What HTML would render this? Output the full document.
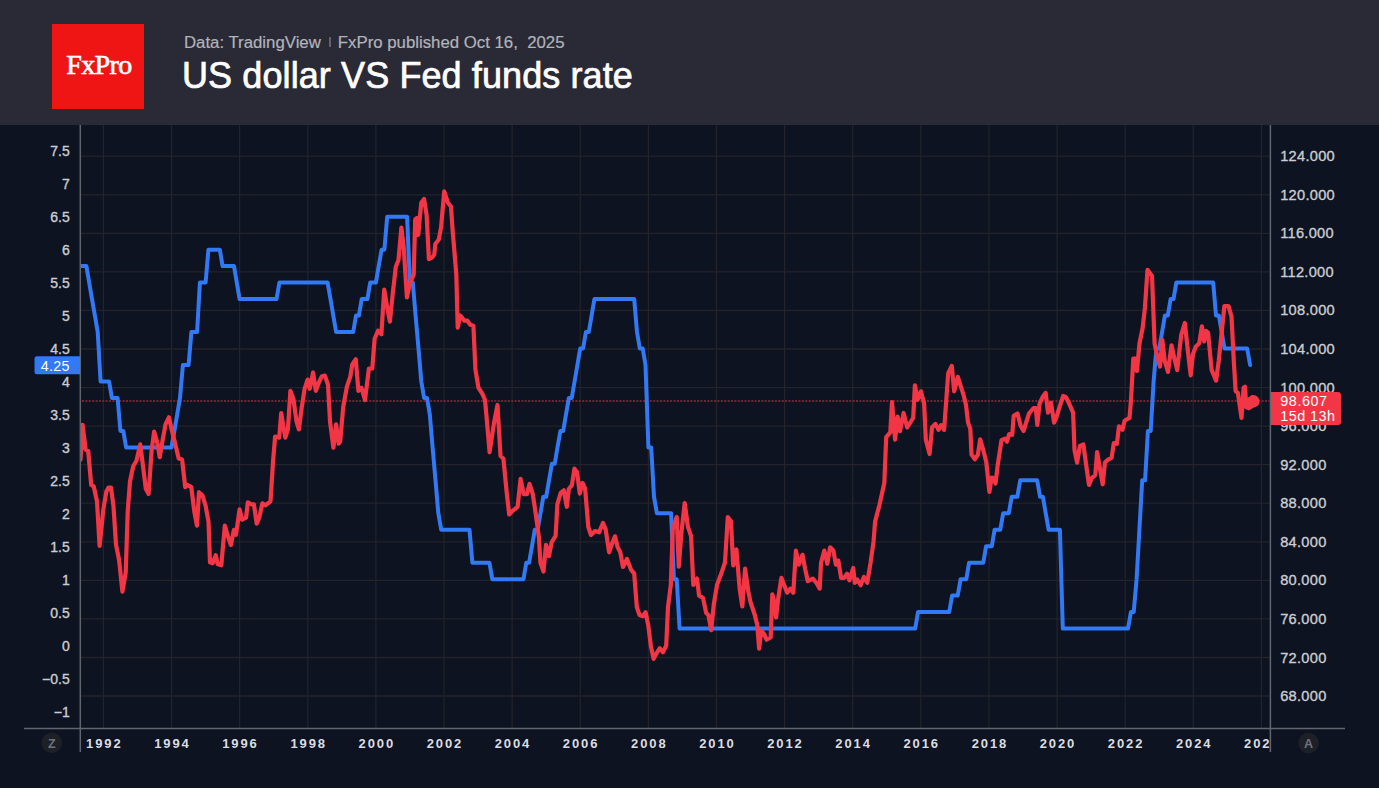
<!DOCTYPE html>
<html><head><meta charset="utf-8"><title>US dollar VS Fed funds rate</title>
<style>
html,body{margin:0;padding:0;background:#0d1320;width:1379px;height:788px;overflow:hidden}
#hd{position:absolute;left:0;top:0;width:1379px;height:125px;background:#292a36}
#logo{position:absolute;left:52px;top:24px;width:92px;height:85px;background:#f01515}
#logo span{position:absolute;left:2px;right:0;top:25px;text-align:center;color:#fff;font:28px "Liberation Serif",serif;letter-spacing:-0.6px;-webkit-text-stroke:0.7px #fff}
#sub{position:absolute;left:184px;top:33px;color:#b2b4ba;font:16.8px "Liberation Sans",sans-serif;white-space:nowrap;-webkit-text-stroke:0.2px #b2b4ba}
#sub i{display:inline-block;width:2px;height:10.5px;background:#5f626a;margin:0 7px 0 8px;vertical-align:1px}
#ttl{position:absolute;left:182px;top:55px;color:#fff;font:36px "Liberation Sans",sans-serif;white-space:nowrap;letter-spacing:0.1px;-webkit-text-stroke:0.7px #fff}
svg{position:absolute;left:0;top:0}
.g{stroke:#232329;stroke-width:1.3}
.ll{font:14px "Liberation Sans",sans-serif;fill:#cbcdd2;stroke:#cbcdd2;stroke-width:0.35px;text-anchor:end}
.rl{font:14.6px "Liberation Sans",sans-serif;fill:#cbcdd2;stroke:#cbcdd2;stroke-width:0.35px;letter-spacing:0.3px}
.yl{font:bold 13px "Liberation Sans",sans-serif;fill:#dcdde1;text-anchor:middle;letter-spacing:1.9px}
</style></head><body>
<div id="hd">
<div id="logo"><span>FxPro</span></div>
<div id="sub">Data: TradingView<i></i>FxPro published Oct 16,&nbsp; 2025</div>
<div id="ttl">US dollar VS Fed funds rate</div>
</div>
<svg width="1379" height="788" viewBox="0 0 1379 788">
<defs><clipPath id="yc"><rect x="81" y="730" width="1189" height="30"/></clipPath><clipPath id="pc"><rect x="81" y="125" width="1189" height="603"/></clipPath></defs>
<rect x="0" y="125" width="1379" height="663" fill="#0d1320"/>
<line x1="80" y1="156.2" x2="1270" y2="156.2" class="g"/>
<line x1="80" y1="194.8" x2="1270" y2="194.8" class="g"/>
<line x1="80" y1="233.3" x2="1270" y2="233.3" class="g"/>
<line x1="80" y1="271.9" x2="1270" y2="271.9" class="g"/>
<line x1="80" y1="310.4" x2="1270" y2="310.4" class="g"/>
<line x1="80" y1="349.0" x2="1270" y2="349.0" class="g"/>
<line x1="80" y1="387.6" x2="1270" y2="387.6" class="g"/>
<line x1="80" y1="426.1" x2="1270" y2="426.1" class="g"/>
<line x1="80" y1="464.7" x2="1270" y2="464.7" class="g"/>
<line x1="80" y1="503.2" x2="1270" y2="503.2" class="g"/>
<line x1="80" y1="541.8" x2="1270" y2="541.8" class="g"/>
<line x1="80" y1="580.4" x2="1270" y2="580.4" class="g"/>
<line x1="80" y1="618.9" x2="1270" y2="618.9" class="g"/>
<line x1="80" y1="657.5" x2="1270" y2="657.5" class="g"/>
<line x1="80" y1="696.0" x2="1270" y2="696.0" class="g"/>
<line x1="103.4" y1="125" x2="103.4" y2="728" class="g"/>
<line x1="171.5" y1="125" x2="171.5" y2="728" class="g"/>
<line x1="239.6" y1="125" x2="239.6" y2="728" class="g"/>
<line x1="307.8" y1="125" x2="307.8" y2="728" class="g"/>
<line x1="375.9" y1="125" x2="375.9" y2="728" class="g"/>
<line x1="444.0" y1="125" x2="444.0" y2="728" class="g"/>
<line x1="512.1" y1="125" x2="512.1" y2="728" class="g"/>
<line x1="580.2" y1="125" x2="580.2" y2="728" class="g"/>
<line x1="648.4" y1="125" x2="648.4" y2="728" class="g"/>
<line x1="716.5" y1="125" x2="716.5" y2="728" class="g"/>
<line x1="784.6" y1="125" x2="784.6" y2="728" class="g"/>
<line x1="852.7" y1="125" x2="852.7" y2="728" class="g"/>
<line x1="920.8" y1="125" x2="920.8" y2="728" class="g"/>
<line x1="989.0" y1="125" x2="989.0" y2="728" class="g"/>
<line x1="1057.1" y1="125" x2="1057.1" y2="728" class="g"/>
<line x1="1125.2" y1="125" x2="1125.2" y2="728" class="g"/>
<line x1="1193.3" y1="125" x2="1193.3" y2="728" class="g"/>
<line x1="1261.4" y1="125" x2="1261.4" y2="728" class="g"/>
<text x="69.7" y="156.3" class="ll">7.5</text>
<text x="69.7" y="189.3" class="ll">7</text>
<text x="69.7" y="222.3" class="ll">6.5</text>
<text x="69.7" y="255.3" class="ll">6</text>
<text x="69.7" y="288.3" class="ll">5.5</text>
<text x="69.7" y="321.3" class="ll">5</text>
<text x="69.7" y="354.3" class="ll">4.5</text>
<text x="69.7" y="387.3" class="ll">4</text>
<text x="69.7" y="420.3" class="ll">3.5</text>
<text x="69.7" y="453.3" class="ll">3</text>
<text x="69.7" y="486.3" class="ll">2.5</text>
<text x="69.7" y="519.3" class="ll">2</text>
<text x="69.7" y="552.3" class="ll">1.5</text>
<text x="69.7" y="585.3" class="ll">1</text>
<text x="69.7" y="618.3" class="ll">0.5</text>
<text x="69.7" y="651.3" class="ll">0</text>
<text x="69.7" y="684.3" class="ll">−0.5</text>
<text x="69.7" y="717.3" class="ll">−1</text>
<text x="1280.2" y="161.2" class="rl">124.000</text>
<text x="1280.2" y="199.8" class="rl">120.000</text>
<text x="1280.2" y="238.3" class="rl">116.000</text>
<text x="1280.2" y="276.9" class="rl">112.000</text>
<text x="1280.2" y="315.4" class="rl">108.000</text>
<text x="1280.2" y="354.0" class="rl">104.000</text>
<text x="1280.2" y="392.6" class="rl">100.000</text>
<text x="1280.2" y="431.1" class="rl">96.000</text>
<text x="1280.2" y="469.7" class="rl">92.000</text>
<text x="1280.2" y="508.2" class="rl">88.000</text>
<text x="1280.2" y="546.8" class="rl">84.000</text>
<text x="1280.2" y="585.4" class="rl">80.000</text>
<text x="1280.2" y="623.9" class="rl">76.000</text>
<text x="1280.2" y="662.5" class="rl">72.000</text>
<text x="1280.2" y="701.0" class="rl">68.000</text>
<g clip-path="url(#yc)">
<text x="104.3" y="748.3" class="yl">1992</text>
<text x="172.4" y="748.3" class="yl">1994</text>
<text x="240.5" y="748.3" class="yl">1996</text>
<text x="308.7" y="748.3" class="yl">1998</text>
<text x="376.8" y="748.3" class="yl">2000</text>
<text x="444.9" y="748.3" class="yl">2002</text>
<text x="513.0" y="748.3" class="yl">2004</text>
<text x="581.1" y="748.3" class="yl">2006</text>
<text x="649.3" y="748.3" class="yl">2008</text>
<text x="717.4" y="748.3" class="yl">2010</text>
<text x="785.5" y="748.3" class="yl">2012</text>
<text x="853.6" y="748.3" class="yl">2014</text>
<text x="921.7" y="748.3" class="yl">2016</text>
<text x="989.9" y="748.3" class="yl">2018</text>
<text x="1058.0" y="748.3" class="yl">2020</text>
<text x="1126.1" y="748.3" class="yl">2022</text>
<text x="1194.2" y="748.3" class="yl">2024</text>
<text x="1262.3" y="748.3" class="yl">2026</text>
</g>
<line x1="24" y1="728.6" x2="1345" y2="728.6" stroke="#62656d" stroke-width="1.5"/>
<line x1="80.3" y1="125" x2="80.3" y2="752" stroke="#62656d" stroke-width="1.5"/>
<line x1="1270.4" y1="125" x2="1270.4" y2="752" stroke="#62656d" stroke-width="1.5"/>
<line x1="82" y1="401" x2="1270" y2="401" stroke="#722633" stroke-width="2" stroke-dasharray="2 1.38"/>
<g clip-path="url(#pc)" fill="none" stroke-linejoin="round" stroke-linecap="round">
<polyline points="69.3,200.2 72.2,233.2 75.0,249.7 77.9,266.1 86.4,266.1 89.2,282.6 92.0,299.1 94.9,315.6 97.7,332.0 100.6,381.5 109.1,381.5 111.9,397.9 117.6,397.9 120.4,430.9 123.3,430.9 126.1,447.4 171.5,447.4 174.4,430.9 177.2,414.4 180.0,397.9 182.9,365.0 188.6,365.0 191.4,332.0 197.1,332.0 199.9,282.6 205.6,282.6 208.4,249.7 219.8,249.7 222.6,266.1 234.0,266.1 236.8,282.6 239.6,299.1 276.5,299.1 279.4,282.6 327.6,282.6 330.5,299.1 333.3,315.6 336.1,332.0 353.2,332.0 356.0,315.6 358.9,315.6 361.7,299.1 367.4,299.1 370.2,282.6 375.9,282.6 378.7,266.1 381.6,249.7 384.4,249.7 387.2,216.7 407.1,216.7 409.9,282.6 412.8,282.6 415.6,315.6 418.5,348.5 421.3,381.5 424.1,397.9 427.0,397.9 429.8,414.4 432.6,447.4 435.5,480.3 438.3,513.2 441.2,529.7 469.5,529.7 472.4,562.7 489.4,562.7 492.3,579.2 523.5,579.2 526.3,562.7 529.1,562.7 532.0,546.2 534.8,529.7 537.7,529.7 540.5,513.2 543.3,496.8 546.2,496.8 549.0,480.3 551.9,463.8 554.7,463.8 557.5,447.4 560.4,430.9 563.2,430.9 566.0,414.4 568.9,397.9 571.7,397.9 574.6,381.5 577.4,365.0 580.2,348.5 583.1,348.5 585.9,332.0 588.8,332.0 591.6,315.6 594.4,299.1 634.2,299.1 637.0,332.0 639.8,348.5 642.7,348.5 645.5,365.0 648.4,447.4 651.2,447.4 654.0,496.8 656.9,513.2 671.1,513.2 673.9,579.2 676.7,579.2 679.6,628.6 915.2,628.6 918.0,612.1 949.2,612.1 952.1,595.6 957.7,595.6 960.6,579.2 966.3,579.2 969.1,562.7 983.3,562.7 986.1,546.2 991.8,546.2 994.6,529.7 1000.3,529.7 1003.2,513.2 1008.8,513.2 1011.7,496.8 1017.3,496.8 1020.2,480.3 1037.2,480.3 1040.1,496.8 1042.9,496.8 1045.7,513.2 1048.6,529.7 1059.9,529.7 1062.8,628.6 1128.0,628.6 1130.9,612.1 1133.7,612.1 1136.6,579.2 1139.4,529.7 1142.2,480.3 1145.1,480.3 1147.9,430.9 1150.7,430.9 1153.6,381.5 1156.4,348.5 1159.3,348.5 1162.1,332.0 1164.9,315.6 1167.8,315.6 1170.6,299.1 1173.5,299.1 1176.3,282.6 1213.2,282.6 1216.0,315.6 1218.9,315.6 1221.7,332.0 1224.5,348.5 1247.2,348.5 1250.1,365.0" stroke="#3179f5" stroke-width="4"/>
<polyline points="80.5,459.6 82.6,424.9 85.6,449.5 88.2,450.8 91.2,485.0 93.7,486.3 97.0,501.5 99.6,546.0 103.4,509.0 106.4,491.4 108.5,487.6 111.0,487.6 113.5,506.6 116.0,544.7 119.1,560.0 122.4,591.6 125.7,572.6 127.7,511.7 130.0,481.2 133.3,466.0 136.4,461.0 140.2,444.4 142.7,463.5 145.8,488.8 148.6,493.9 151.6,450.8 154.1,431.7 157.4,443.1 159.7,457.1 163.0,438.0 165.6,424.1 168.9,417.3 171.9,430.5 174.4,440.6 178.7,458.6 182.1,459.6 185.2,487.1 187.2,485.0 191.3,487.0 194.3,511.5 197.0,525.7 199.0,492.2 202.4,495.2 205.5,505.4 208.5,521.6 210.0,562.3 212.6,563.3 215.7,555.2 217.7,564.3 221.3,565.3 224.8,525.7 227.8,535.9 230.9,545.0 233.9,529.8 236.0,534.8 239.6,509.4 242.1,519.6 246.1,517.6 247.8,502.3 251.2,504.3 253.9,504.3 256.7,523.7 259.3,517.6 262.4,503.3 265.4,505.4 270.5,501.3 273.0,462.0 275.1,436.5 279.2,437.6 281.2,413.2 283.2,425.4 285.3,437.6 287.9,429.4 290.4,390.8 293.4,398.9 296.5,421.3 298.9,429.4 301.5,409.1 304.6,388.8 307.6,379.6 309.7,388.8 313.1,372.5 315.8,390.8 318.8,382.7 321.9,376.2 324.9,375.6 328.0,384.7 330.0,421.3 333.4,447.7 336.1,424.3 338.7,443.7 340.2,441.6 343.2,407.0 346.9,386.7 350.3,376.6 352.3,364.4 355.8,359.3 358.4,390.8 361.5,387.8 365.0,400.0 368.9,368.5 372.3,368.5 374.6,338.8 378.0,330.8 381.4,334.2 384.2,289.7 387.1,306.8 389.9,321.6 392.8,293.1 395.8,266.8 398.5,260.0 401.4,227.5 403.8,248.5 406.9,297.3 409.9,283.5 413.7,274.4 415.2,219.6 416.8,218.0 418.3,234.8 419.8,218.0 421.3,202.8 424.1,199.0 426.6,215.0 428.9,259.2 432.0,257.7 434.3,254.6 435.3,244.0 438.8,239.4 441.1,227.2 444.2,191.4 448.0,202.8 451.0,206.6 452.5,228.7 456.3,274.4 457.7,327.7 460.2,315.5 462.2,317.6 464.2,320.6 467.3,320.6 470.3,324.7 473.4,325.7 475.4,369.3 478.4,387.6 482.5,394.0 485.0,400.0 487.0,422.0 489.6,452.2 494.0,423.0 497.5,405.0 500.5,456.0 503.4,458.5 506.6,491.5 509.2,514.4 513.0,510.6 517.6,506.8 520.6,478.8 523.7,494.1 527.0,494.1 529.5,483.9 532.8,494.1 535.8,514.4 538.9,537.2 540.4,562.6 543.5,571.5 546.0,544.8 549.0,556.2 551.6,542.3 555.6,535.9 557.4,504.2 560.7,492.8 563.8,490.3 566.8,506.8 568.8,489.0 571.9,485.2 574.4,468.7 577.0,472.0 579.8,493.6 582.5,483.0 585.1,488.3 588.3,527.0 591.0,535.0 595.0,531.0 599.0,532.3 603.0,523.0 605.7,529.6 609.1,552.3 612.3,543.0 615.0,536.3 617.6,547.0 620.3,552.3 623.0,567.0 627.0,559.0 631.0,569.6 634.2,573.6 636.8,607.0 639.5,615.0 643.0,616.2 645.6,612.2 648.3,625.6 651.0,646.9 653.6,658.9 656.3,653.6 659.8,648.2 663.0,652.2 666.2,645.6 668.0,607.0 670.8,585.0 672.8,528.8 676.7,517.0 678.8,566.6 681.4,533.1 684.7,503.0 687.9,526.7 691.1,536.4 693.3,585.0 697.0,578.5 699.1,595.7 703.0,597.9 706.2,613.0 708.4,615.1 711.2,630.2 713.8,604.3 717.0,585.0 720.3,576.3 725.0,562.3 727.8,517.0 731.0,521.3 733.2,565.5 736.4,549.3 739.7,589.2 742.3,606.5 745.1,568.7 748.3,591.4 750.5,602.2 754.8,615.0 757.3,625.0 759.1,648.7 761.3,630.7 764.1,634.0 766.6,639.7 770.7,637.3 772.3,594.4 774.5,602.6 776.1,617.5 778.1,599.3 781.4,577.9 783.9,584.5 787.2,592.7 790.5,588.6 793.3,592.7 795.9,550.6 798.7,564.7 802.5,554.8 805.3,569.6 807.8,581.2 812.8,578.7 816.4,582.8 819.7,588.6 821.0,563.0 824.3,550.6 827.3,563.8 830.1,547.3 833.4,550.6 835.9,564.7 838.3,560.5 841.1,577.9 844.1,577.9 847.1,573.7 849.4,580.3 853.2,568.0 854.8,582.8 857.3,579.5 860.6,585.3 863.9,577.0 867.2,582.8 870.5,563.0 873.5,542.0 875.1,521.6 879.5,504.7 884.3,483.0 886.2,437.2 890.3,432.3 892.0,402.2 895.1,439.6 897.6,416.7 900.0,431.1 903.6,413.0 907.2,427.5 913.2,417.9 914.9,385.3 917.6,399.8 920.9,391.3 924.1,403.4 925.8,439.6 929.6,454.0 932.0,427.5 935.4,423.9 938.5,429.9 941.0,425.1 944.1,429.9 948.2,373.3 951.8,366.0 954.2,391.3 957.8,376.9 963.9,396.2 966.0,405.0 968.0,422.6 970.3,428.7 971.5,454.6 974.9,459.2 977.9,454.6 980.2,439.4 983.3,450.0 986.3,462.2 989.4,491.9 991.6,477.5 993.2,478.2 995.5,483.5 997.7,465.3 1001.5,440.1 1004.9,438.6 1006.9,441.7 1009.2,434.1 1012.2,434.8 1013.7,415.8 1017.5,413.5 1020.6,425.7 1023.6,431.0 1025.9,423.4 1029.0,413.5 1033.5,408.2 1035.8,408.2 1037.3,424.9 1039.6,403.6 1042.7,396.8 1045.7,392.9 1048.0,412.7 1051.0,402.8 1054.1,422.6 1056.4,417.3 1059.4,407.4 1063.2,396.0 1066.3,397.5 1070.1,405.9 1073.1,412.7 1074.5,450.0 1077.1,462.6 1079.9,445.9 1083.4,444.5 1086.2,465.4 1089.0,485.0 1091.8,478.0 1095.3,475.2 1097.1,452.2 1099.4,465.4 1102.7,484.3 1105.0,462.6 1107.8,459.8 1111.6,457.7 1113.8,443.1 1116.9,443.8 1119.0,426.3 1122.5,429.8 1124.6,420.7 1129.5,417.9 1131.0,400.0 1133.3,358.6 1135.6,358.6 1136.9,371.0 1139.5,343.5 1142.7,327.5 1144.9,308.0 1147.5,269.8 1152.0,276.0 1154.6,343.5 1157.3,356.8 1160.0,366.6 1162.3,339.9 1164.8,361.2 1168.0,371.9 1171.5,345.3 1174.2,357.7 1177.2,370.1 1181.3,334.6 1184.8,323.0 1188.6,357.5 1190.7,375.3 1193.0,354.0 1195.7,346.8 1199.2,343.3 1201.9,326.4 1204.2,341.5 1206.0,330.9 1208.1,332.6 1211.6,369.9 1216.1,380.6 1218.7,361.0 1221.4,335.3 1224.4,306.0 1228.5,306.0 1231.5,316.6 1233.8,361.0 1235.6,391.2 1237.9,393.0 1241.5,417.9 1243.6,387.7 1245.0,386.8 1246.3,407.2 1248.9,406.3 1252.5,397.5 1256.0,399.2" stroke="#f23645" stroke-width="4.2"/>
</g>
<circle cx="1253.4" cy="401.3" r="6.2" fill="#f23645"/>
<path d="M1244.5 399 L1252 396 L1254 407.5 L1249 410.5 L1245.5 409 Z" fill="#f23645"/>
<path d="M80 356.2 V374.2 H37 a2.5 2.5 0 0 1 -2.5 -2.5 V358.7 a2.5 2.5 0 0 1 2.5 -2.5 Z" fill="#3179f5"/>
<text x="69.8" y="370.5" text-anchor="end" style="font:14.3px 'Liberation Sans',sans-serif;fill:#fff;letter-spacing:0.3px">4.25</text>
<path d="M1271 392 H1338 a3 3 0 0 1 3 3 V422 a3 3 0 0 1 -3 3 H1271 Z" fill="#f23645"/>
<text x="1280.3" y="405.8" style="font:14.4px 'Liberation Sans',sans-serif;fill:#fff;letter-spacing:0.55px">98.607</text>
<text x="1280.3" y="420.5" style="font:14.4px 'Liberation Sans',sans-serif;fill:#fff;letter-spacing:0.45px">15d 13h</text>
<circle cx="51.8" cy="742.8" r="10.3" fill="#1d2027"/>
<text x="51.8" y="747.8" text-anchor="middle" style="font:bold 12.5px 'Liberation Sans',sans-serif;fill:#70737b">Z</text>
<circle cx="1308.6" cy="743" r="10.3" fill="#1d2027"/>
<text x="1308.6" y="748" text-anchor="middle" style="font:bold 12.5px 'Liberation Sans',sans-serif;fill:#70737b">A</text>
</svg>
</body></html>
